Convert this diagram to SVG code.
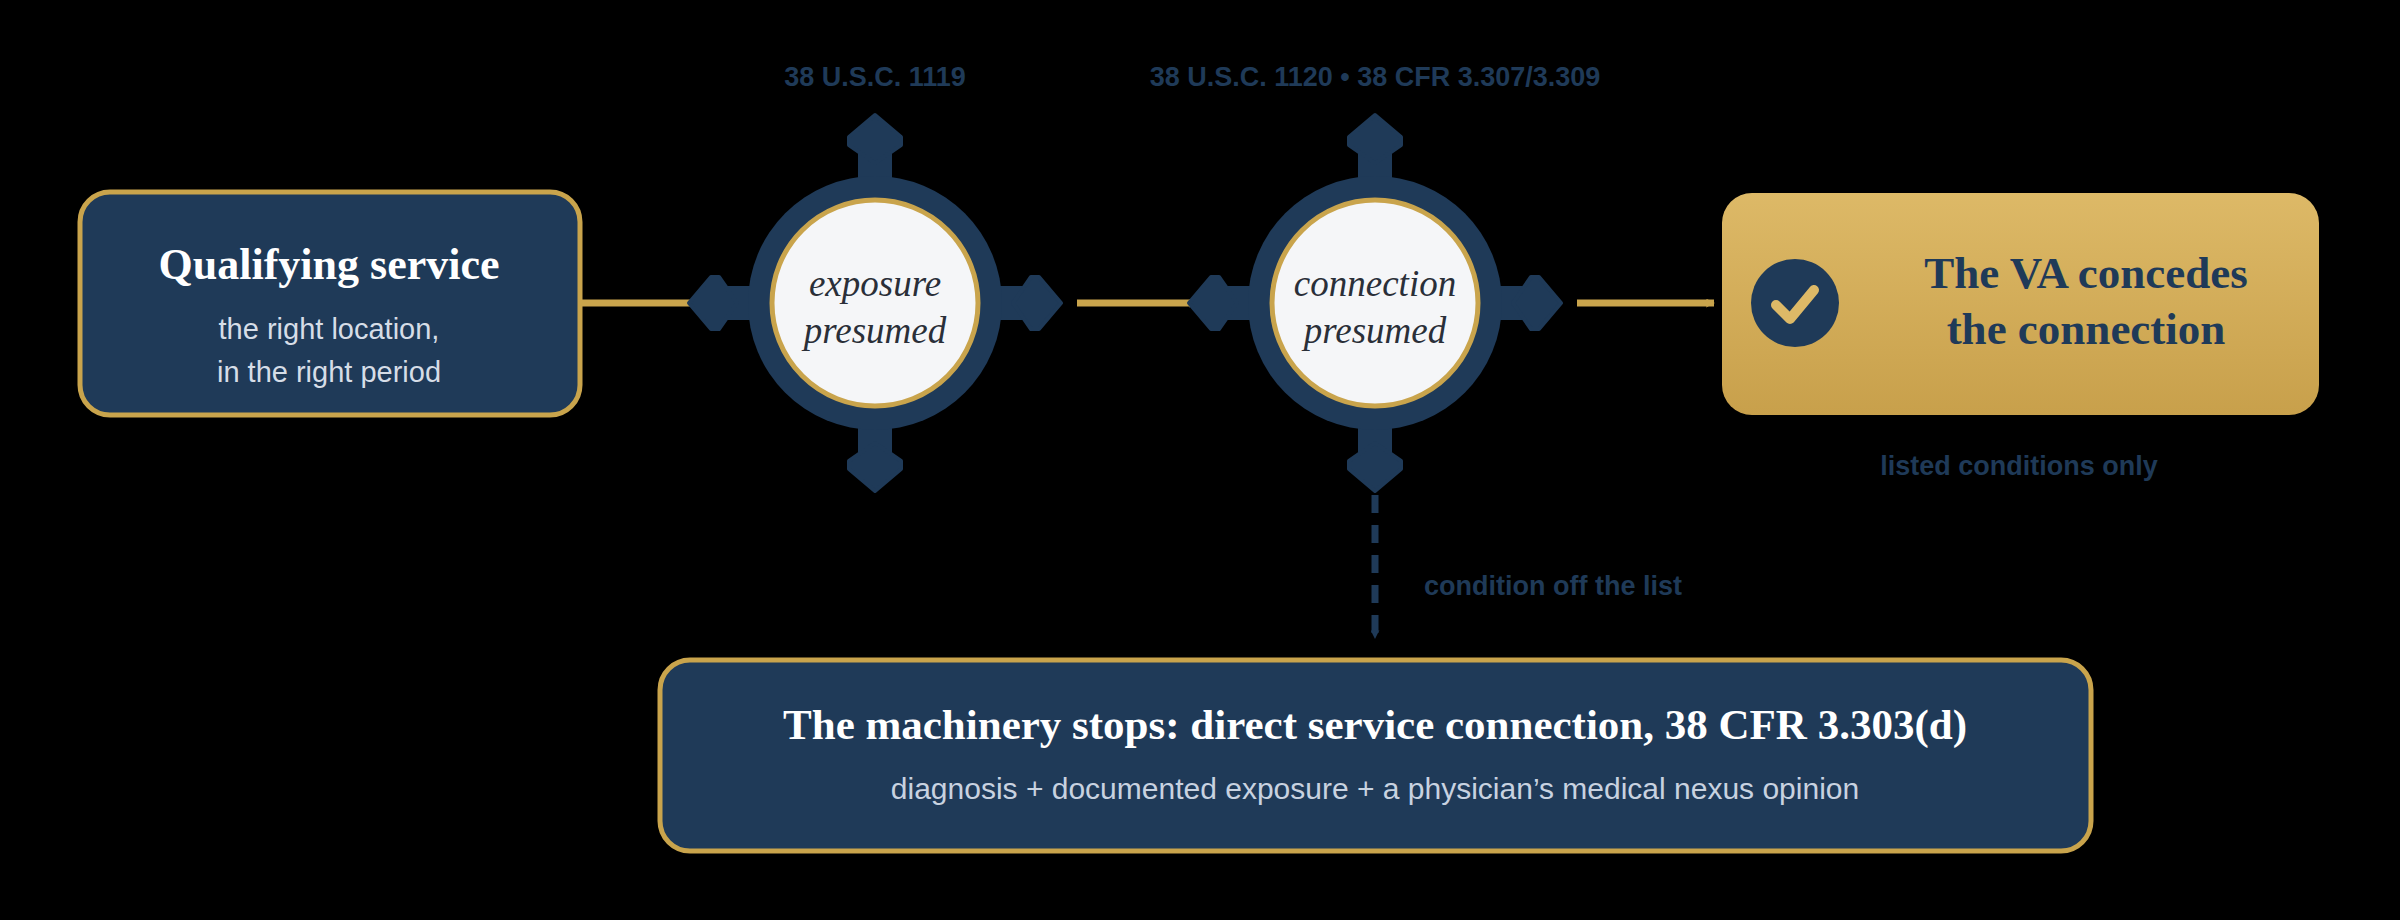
<svg xmlns="http://www.w3.org/2000/svg" width="2400" height="920" viewBox="0 0 2400 920">
<defs>
<linearGradient id="gold" x1="0" y1="0" x2="0" y2="1"><stop offset="0" stop-color="#ddb967"/><stop offset="1" stop-color="#c8a04b"/></linearGradient>
<marker id="ah" viewBox="0 0 20 20" refX="18" refY="10" markerWidth="9" markerHeight="9" markerUnits="userSpaceOnUse" orient="auto"><path d="M0,0 L20,10 L0,20 L6,10 Z" fill="#c9a44c"/></marker>
<marker id="ahn" viewBox="0 0 20 20" refX="18" refY="10" markerWidth="9" markerHeight="9" markerUnits="userSpaceOnUse" orient="auto"><path d="M0,0 L20,10 L0,20 L6,10 Z" fill="#1f3a58"/></marker>
<g id="hub">
<rect x="-17" y="-165" width="34" height="330" fill="#1f3a58"/>
<rect x="-165" y="-17" width="330" height="34" fill="#1f3a58"/>
<path d="M0,-188 L26,-166 L26,-158 L0,-140 L-26,-158 L-26,-166 Z" fill="#1f3a58" stroke="#1f3a58" stroke-width="4" stroke-linejoin="round"/>
<path d="M0,188 L26,166 L26,158 L0,140 L-26,158 L-26,166 Z" fill="#1f3a58" stroke="#1f3a58" stroke-width="4" stroke-linejoin="round"/>
<path d="M-186,0 L-164,-26 L-156,-26 L-138,0 L-156,26 L-164,26 Z" fill="#1f3a58" stroke="#1f3a58" stroke-width="4" stroke-linejoin="round"/>
<path d="M186,0 L164,-26 L156,-26 L138,0 L156,26 L164,26 Z" fill="#1f3a58" stroke="#1f3a58" stroke-width="4" stroke-linejoin="round"/>
<circle r="127" fill="#1f3a58"/>
<circle r="103" fill="#f5f6f8" stroke="#c9a44c" stroke-width="5"/>
</g>
</defs>
<style>
.serifb{font-family:"Liberation Serif","DejaVu Serif",serif;font-weight:bold}
.it{font-family:"Liberation Serif","DejaVu Serif",serif;font-style:italic;font-size:37px;fill:#2a2f38}
.sans{font-family:"Liberation Sans",Arial,sans-serif}
.lab{font-family:"Liberation Sans",Arial,sans-serif;font-weight:bold;font-size:27px;fill:#1f3a58}
</style>
<rect width="2400" height="920" fill="#000"/>
<g id="connectors" fill="none">
<line x1="580" y1="303" x2="700" y2="303" stroke="#c9a44c" stroke-width="7" marker-end="url(#ah)"/>
<line x1="1077" y1="303" x2="1197" y2="303" stroke="#c9a44c" stroke-width="7" marker-end="url(#ah)"/>
<line x1="1577" y1="303" x2="1714" y2="303" stroke="#c9a44c" stroke-width="7" marker-end="url(#ah)"/>
<line x1="1375" y1="495" x2="1375" y2="638" stroke="#1f3a58" stroke-width="7" stroke-dasharray="18,12" marker-end="url(#ahn)"/>
</g>
<g id="n-service">
<rect x="80" y="192" width="500" height="223" rx="30" fill="#1f3a58" stroke="#c9a44c" stroke-width="5"/>
<text x="329" y="279" text-anchor="middle" class="serifb" font-size="44" fill="#fff">Qualifying service</text>
<text x="329" y="339" text-anchor="middle" class="sans" font-size="29" fill="#d6dde7">the right location,</text>
<text x="329" y="382" text-anchor="middle" class="sans" font-size="29" fill="#d6dde7">in the right period</text>
</g>
<g id="n-exposure">
<use href="#hub" x="875" y="303"/>
<text x="875" y="296" text-anchor="middle" class="it">exposure</text>
<text x="875" y="343" text-anchor="middle" class="it">presumed</text>
<text x="875" y="86" text-anchor="middle" class="lab">38 U.S.C. 1119</text>
</g>
<g id="n-connection">
<use href="#hub" x="1375" y="303"/>
<text x="1375" y="296" text-anchor="middle" class="it">connection</text>
<text x="1375" y="343" text-anchor="middle" class="it">presumed</text>
<text x="1375" y="86" text-anchor="middle" class="lab">38 U.S.C. 1120 • 38 CFR 3.307/3.309</text>
</g>
<g id="n-concedes">
<rect x="1722" y="193" width="597" height="222" rx="30" fill="url(#gold)"/>
<circle cx="1795" cy="303" r="44" fill="#1f3a58"/>
<path d="M1776,305 L1790,319 L1814,290" fill="none" stroke="#ddb967" stroke-width="10" stroke-linecap="round" stroke-linejoin="round"/>
<text x="2086" y="288" text-anchor="middle" class="serifb" font-size="45" fill="#1f3a58">The VA concedes</text>
<text x="2086" y="344" text-anchor="middle" class="serifb" font-size="45" fill="#1f3a58">the connection</text>
<text x="2019" y="475" text-anchor="middle" class="lab">listed conditions only</text>
</g>
<text x="1424" y="595" class="lab">condition off the list</text>
<g id="n-direct">
<rect x="660" y="660" width="1431" height="191" rx="30" fill="#1f3a58" stroke="#c9a44c" stroke-width="5"/>
<text x="1375" y="739" text-anchor="middle" class="serifb" font-size="43" fill="#fff">The machinery stops: direct service connection, 38 CFR 3.303(d)</text>
<text x="1375" y="799" text-anchor="middle" class="sans" font-size="30" fill="#c8d2e0">diagnosis + documented exposure + a physician’s medical nexus opinion</text>
</g>
</svg>
